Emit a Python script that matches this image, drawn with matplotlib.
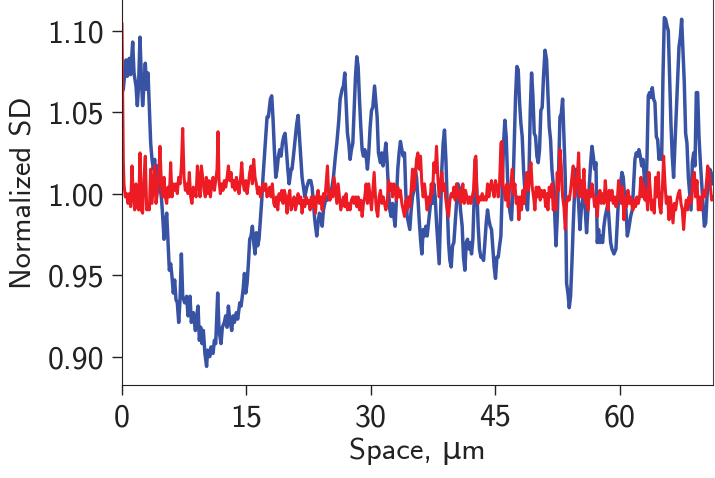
import matplotlib
matplotlib.use("Agg")
import matplotlib.pyplot as plt
from matplotlib.ticker import FormatStrFormatter

# blue trace
blue_x = [0.0, 0.16, 0.48, 0.64, 0.88, 1.04, 1.29, 1.45, 1.69, 1.85, 2.0, 2.17, 2.33, 2.49, 2.65, 2.81, 2.98,
          3.14, 3.3, 3.46, 3.62, 3.78, 3.94, 4.1, 4.26, 4.5, 4.75, 4.91, 5.07, 5.23, 5.39, 5.55, 5.71, 5.87,
          6.03, 6.19, 6.35, 6.51, 6.67, 6.84, 7.0, 7.16, 7.32, 7.56, 7.8, 7.96, 8.2, 8.36, 8.6, 8.85, 9.01,
          9.17, 9.33, 9.49, 9.65, 9.81, 10.0, 10.2, 10.33, 10.58, 10.74, 10.98, 11.14, 11.3, 11.54, 11.7,
          11.94, 12.1, 12.34, 12.5, 12.67, 12.83, 12.99, 13.23, 13.39, 13.55, 13.79, 13.95, 14.2, 14.36,
          14.6, 14.76, 14.92, 15.08, 15.24, 15.4, 15.56, 15.72, 15.88, 16.04, 16.2, 16.36, 16.52, 16.69,
          16.85, 17.0, 17.17, 17.33, 17.49, 17.65, 17.89, 18.05, 18.2, 18.37, 18.54, 18.7, 18.86, 19.02,
          19.18, 19.34, 19.5, 19.66, 19.82, 19.99, 20.15, 20.39, 20.5, 20.67, 20.91, 21.07, 21.23, 21.39,
          21.55, 21.71, 21.87, 22.04, 22.28, 22.52, 22.76, 22.92, 23.08, 23.24, 23.48, 23.64, 23.8, 23.97,
          24.13, 24.29, 24.45, 24.61, 24.77, 25.01, 25.25, 25.49, 25.73, 25.9, 26.14, 26.3, 26.54, 26.7,
          26.86, 27.02, 27.18, 27.34, 27.5, 27.66, 27.83, 27.99, 28.15, 28.31, 28.47, 28.63, 28.79, 28.95,
          29.11, 29.27, 29.43, 29.59, 29.75, 29.92, 30.08, 30.24, 30.45, 30.76, 30.92, 31.16, 31.32, 31.48,
          31.64, 31.81, 31.97, 32.13, 32.29, 32.45, 32.61, 32.77, 32.93, 33.09, 33.25, 33.41, 33.57, 33.74,
          33.9, 34.06, 34.22, 34.38, 34.54, 34.7, 34.86, 35.02, 35.19, 35.35, 35.51, 35.67, 35.83, 35.99,
          36.15, 36.31, 36.47, 36.63, 36.79, 36.95, 37.12, 37.28, 37.44, 37.6, 37.76, 37.92, 38.08, 38.24,
          38.4, 38.56, 38.72, 38.88, 39.05, 39.21, 39.37, 39.53, 39.69, 39.85, 40.01, 40.17, 40.33, 40.49,
          40.65, 40.81, 41.01, 41.17, 41.34, 41.5, 41.66, 41.82, 41.98, 42.14, 42.3, 42.46, 42.62, 42.78,
          42.94, 43.1, 43.27, 43.43, 43.59, 43.75, 43.91, 44.07, 44.23, 44.39, 44.55, 44.71, 44.87, 45.03,
          45.2, 45.36, 45.52, 45.68, 45.84, 46.0, 46.16, 46.32, 46.48, 46.64, 46.8, 46.96, 47.13, 47.29,
          47.45, 47.61, 47.77, 47.93, 48.09, 48.25, 48.41, 48.57, 48.73, 48.89, 49.06, 49.22, 49.38, 49.54,
          49.7, 49.86, 50.02, 50.18, 50.34, 50.5, 50.66, 50.82, 51.0, 51.19, 51.35, 51.51, 51.67, 51.83,
          51.99, 52.15, 52.32, 52.48, 52.64, 52.8, 52.96, 53.12, 53.28, 53.44, 53.6, 53.76, 53.92, 54.08,
          54.24, 54.41, 54.57, 54.73, 54.89, 55.05, 55.21, 55.37, 55.53, 55.69, 55.85, 56.01, 56.17, 56.34,
          56.5, 56.66, 56.82, 56.98, 57.14, 57.3, 57.46, 57.62, 57.78, 57.94, 58.1, 58.26, 58.42, 58.58,
          58.75, 58.91, 59.07, 59.31, 59.55, 59.71, 59.87, 60.11, 60.27, 60.43, 60.59, 60.76, 60.92, 61.08,
          61.32, 61.52, 61.68, 61.84, 62.0, 62.16, 62.32, 62.48, 62.65, 62.81, 62.97, 63.13, 63.29, 63.45,
          63.61, 63.77, 63.93, 64.09, 64.25, 64.42, 64.58, 64.74, 64.9, 65.06, 65.22, 65.38, 65.54, 65.7,
          65.86, 66.02, 66.18, 66.34, 66.5, 66.67, 66.83, 66.99, 67.15, 67.31, 67.47, 67.63, 67.79, 67.95,
          68.11, 68.28, 68.44, 68.6, 68.76, 68.92, 69.08, 69.24, 69.4, 69.56, 69.73, 69.89, 70.05, 70.21,
          70.37, 70.53, 70.69, 70.86, 71.02, 71.18]
blue_y = [1.062, 1.064, 1.082, 1.072, 1.083, 1.073, 1.093, 1.074, 1.066, 1.054, 1.066, 1.096, 1.072, 1.054,
          1.066, 1.080, 1.064, 1.074, 1.053, 1.031, 1.021, 1.015, 1.021, 1.006, 1.017, 1.006, 0.998, 0.986,
          0.972, 0.982, 0.988, 0.970, 0.953, 0.957, 0.949, 0.939, 0.947, 0.935, 0.933, 0.921, 0.935, 0.963,
          0.937, 0.933, 0.937, 0.925, 0.937, 0.921, 0.927, 0.916, 0.925, 0.931, 0.910, 0.918, 0.908, 0.916,
          0.902, 0.894, 0.904, 0.900, 0.906, 0.902, 0.910, 0.908, 0.939, 0.916, 0.908, 0.918, 0.921, 0.925,
          0.918, 0.931, 0.923, 0.916, 0.925, 0.921, 0.927, 0.923, 0.933, 0.931, 0.941, 0.951, 0.939, 0.945,
          0.957, 0.972, 0.974, 0.980, 0.970, 0.963, 0.976, 0.968, 0.972, 0.984, 0.996, 1.010, 1.023, 1.035,
          1.047, 1.047, 1.058, 1.060, 1.047, 1.027, 1.010, 1.015, 1.023, 1.027, 1.023, 1.031, 1.035, 1.037,
          1.027, 1.015, 1.006, 1.015, 1.015, 1.023, 1.035, 1.043, 1.048, 1.035, 1.021, 1.010, 1.004, 0.998,
          1.004, 1.008, 1.008, 1.004, 0.994, 0.984, 0.974, 0.982, 0.988, 0.986, 0.980, 0.990, 0.994, 0.998,
          0.996, 1.000, 1.002, 1.010, 1.023, 1.031, 1.045, 1.058, 1.064, 1.066, 1.074, 1.056, 1.037, 1.031,
          1.021, 1.027, 1.031, 1.051, 1.072, 1.084, 1.078, 1.058, 1.041, 1.027, 1.023, 1.027, 1.023, 1.015,
          1.025, 1.041, 1.051, 1.053, 1.066, 1.047, 1.025, 1.019, 1.025, 1.017, 1.023, 1.031, 1.019, 1.002,
          0.990, 0.986, 0.994, 0.986, 0.980, 0.998, 1.015, 1.025, 1.032, 1.027, 1.023, 1.025, 1.000, 0.986,
          0.982, 0.978, 0.990, 0.998, 1.002, 1.015, 1.010, 0.998, 0.984, 0.972, 0.963, 0.978, 0.974, 0.980,
          0.974, 0.982, 0.990, 0.998, 0.994, 1.006, 0.998, 0.982, 0.970, 0.957, 0.986, 1.015, 1.031, 1.039,
          1.021, 0.994, 0.970, 0.959, 0.955, 0.968, 0.970, 0.982, 0.994, 1.006, 1.004, 0.990, 0.980, 0.961,
          0.953, 0.970, 0.972, 0.966, 0.970, 0.963, 0.972, 0.998, 1.021, 1.002, 0.980, 0.966, 0.961, 0.961,
          0.959, 0.970, 0.982, 0.990, 0.984, 0.980, 0.978, 0.966, 0.955, 0.948, 0.961, 0.961, 0.968, 0.974,
          1.002, 1.031, 1.045, 1.035, 1.010, 0.994, 0.988, 0.984, 1.002, 1.031, 1.060, 1.078, 1.076, 1.056,
          1.043, 1.035, 1.015, 1.002, 0.994, 0.990, 1.010, 1.051, 1.074, 1.060, 1.037, 1.035, 1.023, 1.019,
          1.027, 1.051, 1.053, 1.072, 1.088, 1.082, 1.062, 1.041, 1.033, 1.015, 1.006, 0.990, 0.968, 0.986,
          1.015, 1.047, 1.049, 1.058, 1.035, 1.010, 0.945, 0.939, 0.930, 0.937, 0.957, 0.982, 1.002, 1.015,
          1.004, 0.994, 0.978, 0.990, 0.996, 1.006, 0.990, 0.976, 0.990, 1.006, 1.019, 1.029, 1.023, 1.015,
          1.019, 0.970, 0.978, 0.970, 0.974, 0.970, 0.980, 0.986, 0.990, 0.994, 0.982, 0.970, 0.966, 0.963,
          0.966, 0.982, 0.998, 1.006, 1.013, 1.010, 0.998, 0.990, 0.974, 0.978, 0.986, 0.990, 1.006, 1.021,
          1.025, 1.023, 1.027, 1.023, 1.017, 1.021, 1.010, 0.998, 1.021, 1.060, 1.062, 1.059, 1.065, 1.058,
          1.056, 1.035, 1.033, 1.021, 1.027, 1.021, 1.072, 1.108, 1.107, 1.103, 1.100, 1.072, 1.043, 1.023,
          1.010, 1.031, 1.051, 1.072, 1.090, 1.096, 1.107, 1.088, 1.068, 1.037, 1.031, 1.010, 1.000, 0.990,
          1.019, 1.025, 1.017, 1.062, 1.062, 1.035, 1.019, 1.006, 0.994, 0.980, 0.982, 0.998, 1.010, 1.015,
          1.013, 1.006]

# red trace
red_x = [0.0, 0.08, 0.16, 0.24, 0.4, 0.56, 0.72, 0.88, 1.04, 1.21, 1.37, 1.53, 1.69, 1.85, 2.01, 2.17,
         2.33, 2.49, 2.65, 2.81, 2.98, 3.14, 3.3, 3.46, 3.62, 3.78, 3.94, 4.1, 4.26, 4.42, 4.58, 4.75,
         4.91, 5.07, 5.23, 5.39, 5.55, 5.71, 5.87, 6.03, 6.19, 6.35, 6.51, 6.67, 6.84, 7.0, 7.16, 7.32,
         7.48, 7.64, 7.8, 7.96, 8.12, 8.28, 8.44, 8.6, 8.76, 8.93, 9.09, 9.25, 9.41, 9.57, 9.73, 9.89,
         10.05, 10.17, 10.33, 10.5, 10.66, 10.82, 10.98, 11.14, 11.3, 11.46, 11.58, 11.7, 11.86, 12.02,
         12.18, 12.34, 12.51, 12.67, 12.83, 12.99, 13.15, 13.31, 13.47, 13.63, 13.79, 13.95, 14.11, 14.27,
         14.44, 14.6, 14.76, 14.92, 15.08, 15.24, 15.4, 15.56, 15.72, 15.88, 16.04, 16.2, 16.36, 16.52,
         16.69, 16.85, 17.0, 17.17, 17.33, 17.49, 17.65, 17.81, 17.97, 18.13, 18.3, 18.46, 18.62, 18.78,
         18.94, 19.1, 19.26, 19.42, 19.58, 19.74, 19.9, 20.06, 20.23, 20.39, 20.59, 20.75, 20.91, 21.07,
         21.23, 21.39, 21.55, 21.71, 21.87, 22.04, 22.2, 22.36, 22.52, 22.68, 22.84, 23.0, 23.16, 23.32,
         23.48, 23.64, 23.8, 23.97, 24.13, 24.29, 24.45, 24.61, 24.77, 24.93, 25.09, 25.25, 25.41, 25.57,
         25.73, 25.9, 26.06, 26.22, 26.38, 26.54, 26.7, 26.86, 27.02, 27.18, 27.34, 27.5, 27.66, 27.83,
         27.99, 28.15, 28.31, 28.47, 28.63, 28.79, 28.95, 29.11, 29.27, 29.43, 29.59, 29.75, 29.92, 30.08,
         30.24, 30.4, 30.56, 30.68, 30.84, 31.0, 31.16, 31.33, 31.49, 31.65, 31.81, 31.97, 32.13, 32.29,
         32.45, 32.61, 32.77, 32.93, 33.09, 33.25, 33.41, 33.57, 33.74, 33.9, 34.06, 34.22, 34.38, 34.54,
         34.7, 34.86, 35.02, 35.19, 35.35, 35.51, 35.67, 35.83, 35.99, 36.15, 36.31, 36.47, 36.63, 36.79,
         36.95, 37.12, 37.28, 37.44, 37.6, 37.76, 37.92, 38.08, 38.24, 38.4, 38.56, 38.72, 38.88, 39.05,
         39.21, 39.37, 39.53, 39.69, 39.85, 40.01, 40.17, 40.33, 40.49, 40.65, 40.81, 40.93, 41.09, 41.25,
         41.41, 41.58, 41.74, 41.9, 42.06, 42.22, 42.38, 42.54, 42.66, 42.78, 42.94, 43.1, 43.26, 43.43,
         43.59, 43.75, 43.91, 44.07, 44.23, 44.39, 44.55, 44.71, 44.87, 45.03, 45.2, 45.36, 45.52, 45.68,
         45.8, 45.92, 46.08, 46.24, 46.4, 46.56, 46.72, 46.89, 47.05, 47.21, 47.37, 47.53, 47.69, 47.85,
         48.01, 48.17, 48.33, 48.49, 48.65, 48.82, 48.98, 49.14, 49.3, 49.46, 49.62, 49.78, 49.94, 50.1,
         50.26, 50.42, 50.58, 50.75, 50.91, 51.07, 51.19, 51.35, 51.51, 51.67, 51.83, 51.99, 52.15, 52.31,
         52.47, 52.63, 52.8, 52.96, 53.12, 53.28, 53.44, 53.6, 53.76, 53.92, 54.08, 54.24, 54.4, 54.57,
         54.73, 54.89, 55.05, 55.21, 55.37, 55.53, 55.69, 55.85, 56.01, 56.17, 56.34, 56.5, 56.66, 56.82,
         56.98, 57.14, 57.3, 57.46, 57.62, 57.78, 57.94, 58.1, 58.26, 58.42, 58.59, 58.75, 58.91, 59.07,
         59.23, 59.39, 59.55, 59.71, 59.87, 60.03, 60.19, 60.35, 60.51, 60.67, 60.83, 60.99, 61.16, 61.32,
         61.44, 61.6, 61.76, 61.92, 62.08, 62.24, 62.4, 62.57, 62.73, 62.89, 63.05, 63.21, 63.37, 63.53,
         63.69, 63.85, 64.01, 64.17, 64.34, 64.5, 64.66, 64.82, 64.98, 65.14, 65.3, 65.46, 65.62, 65.78,
         65.95, 66.11, 66.27, 66.43, 66.59, 66.75, 66.91, 67.07, 67.23, 67.39, 67.55, 67.71, 67.87, 68.03,
         68.19, 68.35, 68.52, 68.68, 68.84, 69.0, 69.16, 69.32, 69.48, 69.64, 69.8, 69.96, 70.13, 70.29,
         70.45, 70.61, 70.77, 70.93, 71.09, 71.25]
red_y = [1.104, 1.060, 1.020, 1.006, 0.998, 1.000, 0.994, 1.000, 0.992, 1.017, 0.998, 0.990, 1.006, 0.992,
         0.990, 1.025, 0.990, 0.988, 1.010, 1.023, 0.990, 0.992, 0.990, 1.015, 0.994, 1.006, 1.017, 0.994,
         1.000, 1.010, 1.029, 1.006, 0.998, 1.010, 0.998, 0.994, 1.004, 0.998, 1.019, 0.998, 1.006, 1.002,
         1.006, 1.000, 1.010, 1.006, 1.017, 1.040, 1.010, 1.002, 1.006, 1.000, 1.013, 0.998, 0.994, 1.004,
         1.002, 0.998, 1.017, 1.008, 0.998, 1.017, 1.010, 1.002, 0.998, 1.010, 1.000, 1.008, 0.998, 1.006,
         1.010, 1.002, 1.008, 1.015, 1.038, 1.008, 1.000, 1.006, 1.002, 1.008, 1.004, 1.010, 1.017, 1.008,
         1.013, 1.004, 1.008, 1.002, 1.010, 1.006, 1.000, 1.008, 1.019, 1.006, 1.002, 1.008, 1.000, 1.006,
         1.013, 1.017, 1.006, 1.021, 1.010, 1.006, 1.000, 1.004, 0.998, 1.002, 1.006, 1.002, 1.006, 0.998,
         1.002, 1.004, 0.998, 1.006, 0.994, 0.992, 0.998, 0.990, 1.000, 0.996, 1.002, 0.994, 1.002, 0.998,
         0.988, 0.998, 1.002, 0.990, 0.994, 0.998, 0.990, 0.994, 1.000, 0.994, 0.998, 0.988, 0.996, 0.992,
         0.998, 0.994, 0.996, 0.990, 0.998, 0.992, 0.998, 0.988, 0.998, 1.002, 0.994, 0.998, 0.990, 1.000,
         0.996, 1.006, 1.017, 0.998, 0.996, 1.002, 0.998, 1.010, 1.002, 0.994, 1.006, 0.998, 0.990, 0.994,
         0.998, 0.992, 1.000, 0.990, 0.994, 0.990, 0.996, 0.998, 0.994, 0.998, 0.992, 0.998, 0.990, 0.996,
         0.986, 0.994, 0.998, 1.006, 0.994, 1.006, 0.998, 0.990, 1.002, 1.013, 0.998, 0.990, 0.986, 0.998,
         1.002, 0.994, 0.998, 0.994, 0.990, 0.994, 1.008, 1.002, 1.006, 0.998, 1.006, 1.002, 0.996, 1.004,
         0.998, 1.002, 0.994, 0.990, 0.986, 0.996, 0.990, 0.998, 0.992, 1.002, 1.015, 1.002, 1.010, 1.021,
         1.025, 1.015, 1.023, 1.006, 0.998, 1.006, 0.998, 0.990, 0.998, 0.994, 1.006, 1.000, 1.019, 1.013,
         1.029, 1.010, 0.998, 1.006, 1.013, 1.002, 1.006, 0.996, 0.990, 0.986, 0.996, 1.000, 0.998, 1.004,
         0.996, 1.006, 0.998, 1.002, 0.994, 0.998, 1.006, 0.994, 1.002, 0.998, 0.994, 0.998, 0.994, 0.998,
         1.002, 1.021, 1.023, 0.998, 0.994, 0.998, 0.996, 1.000, 0.996, 0.998, 0.996, 1.006, 0.998, 1.004,
         1.008, 1.002, 0.998, 1.008, 1.004, 0.998, 1.006, 1.031, 1.032, 1.006, 1.002, 0.996, 1.006, 0.992,
         1.002, 1.006, 1.015, 1.000, 1.006, 0.994, 0.998, 0.984, 0.998, 0.990, 1.002, 0.994, 1.006, 1.013,
         1.002, 1.010, 1.019, 1.004, 0.998, 0.990, 1.004, 0.998, 1.004, 0.996, 1.002, 0.998, 1.002, 0.992,
         1.000, 0.990, 1.004, 0.998, 1.006, 0.990, 0.996, 0.990, 1.013, 1.002, 1.027, 1.017, 0.998, 0.992,
         0.978, 0.994, 0.998, 0.996, 1.002, 1.010, 1.017, 0.998, 1.002, 1.010, 1.025, 0.998, 1.008, 0.998,
         1.015, 0.994, 1.002, 0.990, 1.002, 0.998, 1.006, 1.000, 0.992, 0.998, 0.986, 0.998, 1.002, 0.994,
         1.000, 0.994, 1.008, 0.998, 0.990, 1.002, 0.996, 1.002, 0.994, 0.998, 0.992, 0.996, 1.008, 1.002,
         0.994, 1.004, 0.984, 0.998, 0.992, 1.002, 0.994, 0.998, 0.994, 0.990, 0.996, 0.992, 0.998, 0.994,
         0.998, 1.010, 0.998, 1.006, 0.996, 1.002, 0.990, 1.013, 1.002, 0.990, 0.996, 0.988, 1.010, 0.998,
         1.013, 0.992, 0.988, 1.002, 1.023, 1.006, 0.994, 0.998, 0.984, 0.998, 0.990, 0.982, 0.994, 0.990,
         0.996, 1.000, 1.002, 0.994, 0.990, 0.978, 0.990, 0.996, 0.990, 0.998, 0.994, 0.996, 1.010, 1.013,
         0.998, 1.008, 0.990, 0.998, 0.990, 0.998, 1.002, 0.998, 1.006, 1.017, 1.013, 1.004, 0.996, 0.998]

x_ticks = [0, 15, 30, 45, 60]
y_ticks = [0.90, 0.95, 1.00, 1.05, 1.10]

plt.rcParams['font.family'] = ['cmss10', 'DejaVu Sans']
plt.rcParams['axes.unicode_minus'] = False

fig = plt.figure(figsize=(7.15, 4.78), dpi=100)
ax = fig.add_axes([0.1706, 0.1946, 0.8266, 0.8054])

ax.plot(blue_x, blue_y, color='#3953a4', lw=2.5, solid_joinstyle='round')
ax.plot(red_x, red_y, color='#ed1c24', lw=2.2, solid_joinstyle='round')

ax.set_xlim(0, 71.25)
ax.set_ylim(0.8826, 1.1188)
ax.set_xticks(x_ticks)
ax.set_yticks(y_ticks)
ax.yaxis.set_major_formatter(FormatStrFormatter('%.2f'))
ax.tick_params(direction='out', length=7, width=1, labelsize=23, pad=6,
               colors='#222222', labelcolor='#222222')

for side in ['left', 'bottom']:
    ax.spines[side].set_color('#222222')
ax.spines['top'].set_visible(False)
ax.spines['right'].set_linewidth(0.8)
ax.spines['right'].set_color('#444444')

ax.set_xlabel('Space, μm', fontsize=22, labelpad=4, color='#222222')
ax.set_ylabel('Normalized SD', fontsize=22, labelpad=7, color='#222222')

fig.savefig('out.png', dpi=100)
